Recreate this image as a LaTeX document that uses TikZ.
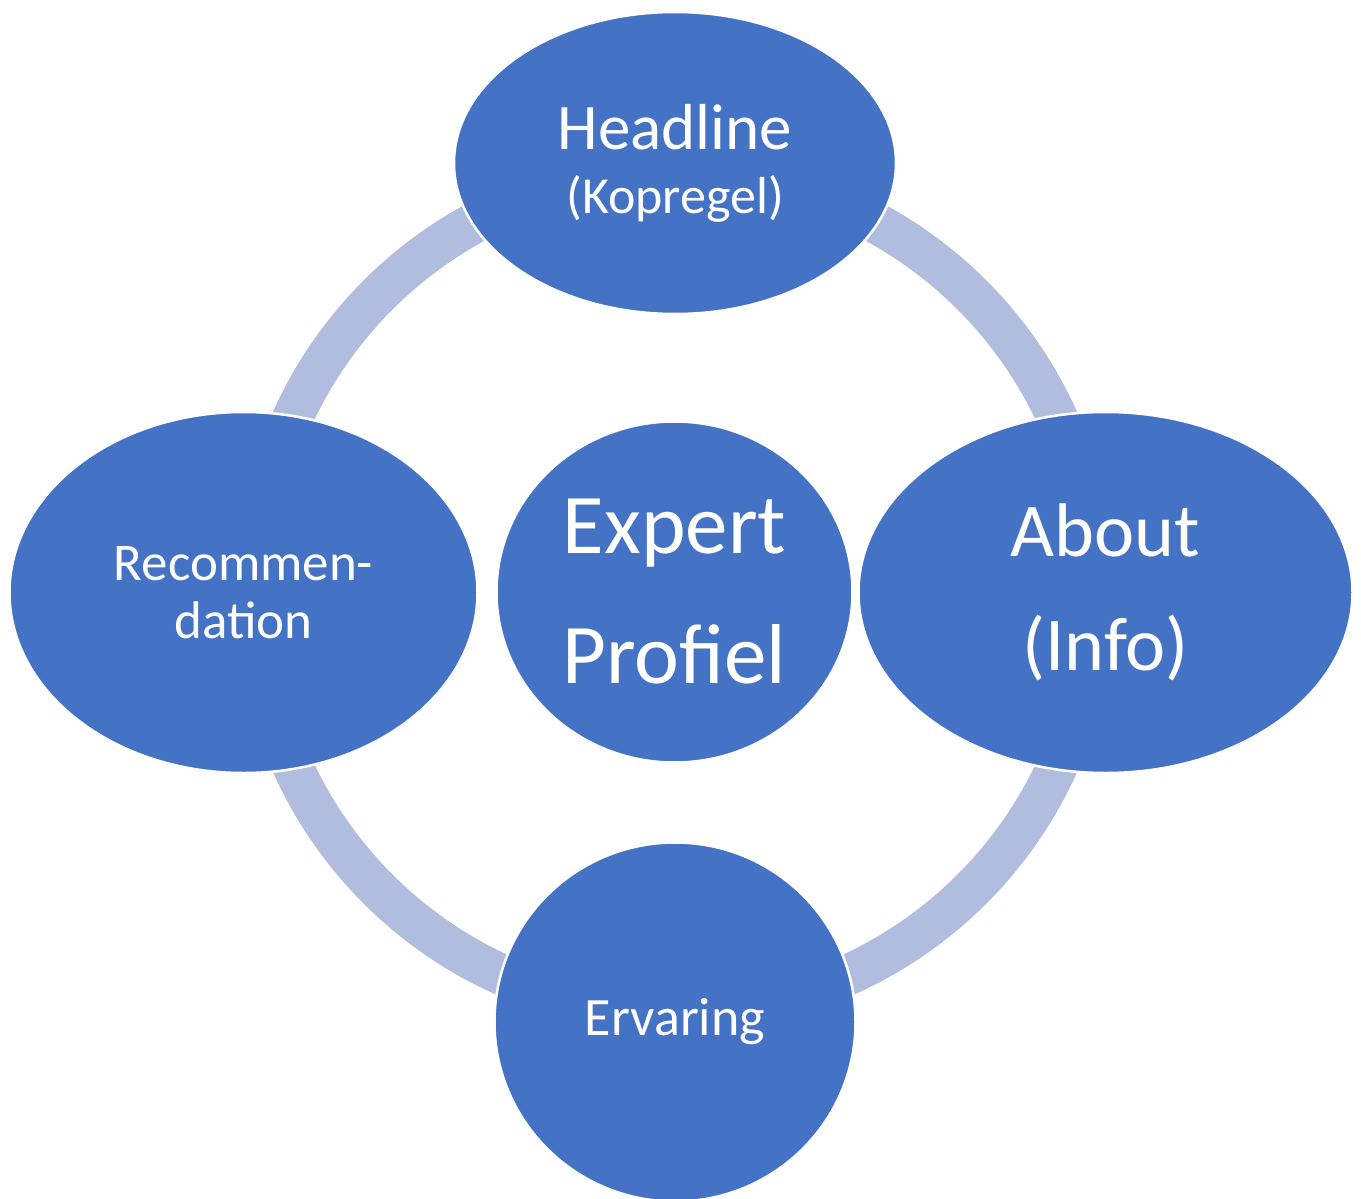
\documentclass[tikz,border=0pt]{standalone}
\usepackage{fontspec}
\setmainfont{Carlito}
\usetikzlibrary{shapes.geometric}

\definecolor{bubbleblue}{RGB}{68,114,196}
\definecolor{ringblue}{RGB}{176,189,222}

\tikzset{
  bubble/.style={ellipse, fill=bubbleblue, draw=white, line width=2.5pt,
    text=white, align=center, inner sep=0pt},
  ringline/.style={draw=ringblue, line width=41pt}
}

\begin{document}
\begin{tikzpicture}[x=1pt,y=1pt,yscale=-1,xscale=1]
\useasboundingbox (0,0) rectangle (1361,1199);

%Shape: Circle [ring behind the bubbles]
\draw [ringline] (675,592) circle (420pt);

%Shape: Ellipse [top]
\node [bubble, minimum width=442pt, minimum height=302pt,
  font=\fontsize{65}{64}\selectfont] (headline) at (675,163)
  {Headline\\\fontsize{52}{64}\selectfont (Kopregel)};
%Shape: Ellipse [left]
\node [bubble, minimum width=468pt, minimum height=361pt,
  font=\fontsize{53}{58}\selectfont] (recommend) at (243.5,592.5)
  {Recommen-\\dation};
%Shape: Ellipse [right]
\node [bubble, minimum width=494pt, minimum height=361pt,
  font=\fontsize{76}{114}\selectfont] (about) at (1105.5,592.5)
  {About\\(Info)};
%Shape: Circle [centre]
\node [bubble, minimum width=356pt, minimum height=341pt,
  font=\fontsize{85}{130}\selectfont] (expert) at (674.5,592)
  {Expert\\Profiel};
%Shape: Circle [bottom]
\node [bubble, minimum width=361pt, minimum height=359pt,
  font=\fontsize{54}{60}\selectfont] (ervaring) at (675,1022)
  {Ervaring};

\end{tikzpicture}
\end{document}
